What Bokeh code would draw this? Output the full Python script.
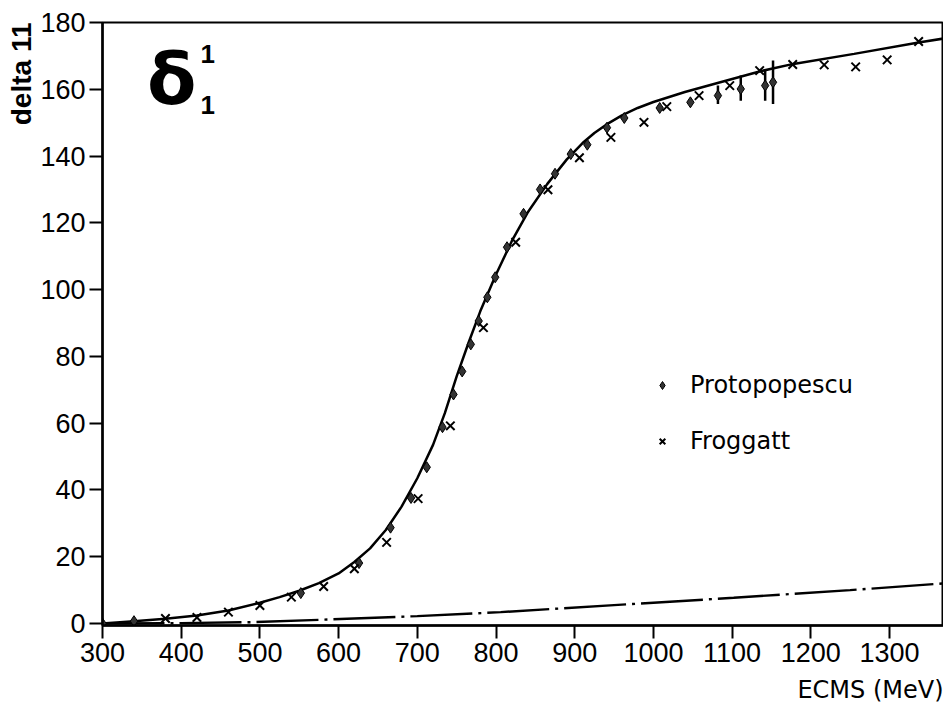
from bokeh.plotting import figure
from bokeh.models import Label, Legend, LegendItem, FixedTicker, Range1d, Title
from bokeh.embed import file_html
from bokeh.resources import INLINE

# ---- data ----
proto_x = [300, 340, 552, 626, 666, 692, 712, 732, 746, 757, 768, 778, 789, 799,
           814, 835, 856, 875, 895, 916, 941, 963, 1008, 1047, 1082, 1111, 1142, 1152]
proto_y = [0.0, 0.7, 9.1, 18.1, 28.7, 37.6, 46.8, 58.8, 68.6, 75.5, 83.6, 90.6, 97.7, 103.7,
           112.7, 122.7, 130.0, 134.7, 140.6, 143.4, 148.5, 151.4, 154.4, 156.1, 158.1, 160.1, 161.1, 162.1]

frog_x = [380, 420, 460, 500, 540, 581, 620, 661, 701, 742, 784, 825, 866, 906, 946,
          988, 1017, 1058, 1097, 1135, 1177, 1217, 1257, 1297, 1337]
frog_y = [1.5, 1.8, 3.4, 5.4, 7.9, 11.1, 16.4, 24.3, 37.4, 59.2, 88.6, 114.2, 129.9, 139.5, 145.6,
          150.1, 154.8, 158.1, 161.1, 165.6, 167.4, 167.3, 166.7, 168.8, 174.3]

err_x = [1082, 1111, 1142, 1152]
err_lo = [155.6, 156.6, 156.6, 155.6]
err_hi = [161.1, 164.1, 165.6, 168.6]

fit_x = [300, 340, 380, 420, 460, 500, 525, 550, 575, 600, 620, 640, 660, 680, 700, 720, 735,
         750, 765, 780, 800, 820, 840, 865, 890, 910, 925, 940, 960, 980, 1000, 1040, 1085,
         1136, 1178, 1255, 1337, 1374]
fit_y = [0.0, 0.7, 1.4, 2.4, 3.9, 6.2, 7.9, 9.8, 12.1, 15.0, 18.4, 22.5, 28.0, 35.0, 43.5, 53.5, 63.0,
         74.0, 84.0, 93.5, 104.5, 114.5, 123.0, 131.6, 139.0, 143.9, 146.9, 149.4, 152.2, 154.4, 156.2, 159.2, 162.1,
         165.4, 167.6, 170.6, 174.0, 175.4]

bg_x = [300, 400, 490, 575, 700, 806, 950, 1102, 1250, 1374]
bg_y = [0.0, 0.1, 0.4, 1.1, 2.2, 3.4, 5.5, 7.7, 10.0, 12.1]

x_ticks = [300, 400, 500, 600, 700, 800, 900, 1000, 1100, 1200, 1300]
y_ticks = [0, 20, 40, 60, 80, 100, 120, 140, 160, 180]

TICK_FONT = "Liberation Sans"
TEXT_FONT = "DejaVu Sans"

p = figure(width=943, height=712,
           x_range=Range1d(300, 1368.6), y_range=Range1d(-0.6, 180),
           output_backend="svg", toolbar_location=None,
           min_border_left=102, min_border_right=0,
           min_border_top=22, min_border_bottom=87)

p.background_fill_color = "white"
p.border_fill_color = "white"
p.outline_line_color = "black"
p.outline_line_width = 2
p.xgrid.visible = False
p.ygrid.visible = False

for ax in (p.xaxis[0], p.yaxis[0]):
    ax.axis_line_width = 2.5
    ax.axis_line_color = "black"
    ax.major_tick_line_width = 2
    ax.major_tick_line_color = "black"
    ax.major_tick_out = 13
    ax.major_tick_in = 0
    ax.minor_tick_out = 0
    ax.minor_tick_in = 0
    ax.major_label_text_font = TICK_FONT
    ax.major_label_text_font_size = "27px"
    ax.major_label_text_color = "black"

p.xaxis[0].ticker = FixedTicker(ticks=x_ticks)
p.yaxis[0].ticker = FixedTicker(ticks=y_ticks)
p.xaxis[0].major_label_standoff = 4
p.yaxis[0].major_label_standoff = 4

# curves
p.line(bg_x, bg_y, line_color="black", line_width=2.4, line_dash="62 6 3 6")
p.line(fit_x, fit_y, line_color="black", line_width=2.5)

# error bars
p.segment(x0=err_x, y0=err_lo, x1=err_x, y1=err_hi, line_color="black", line_width=2.5)

r_proto = p.scatter(proto_x, proto_y, marker="diamond", size=11,
                    fill_color="#333333", line_color="black", line_width=1)
r_frog = p.scatter(frog_x, frog_y, marker="x", size=12,
                   line_color="black", line_width=2)

legend = Legend(items=[LegendItem(label="Protopopescu", renderers=[r_proto]),
                       LegendItem(label="Froggatt", renderers=[r_frog])],
                location=(550, 170), orientation="vertical",
                background_fill_alpha=0, border_line_alpha=0,
                label_text_font=TEXT_FONT, label_text_font_size="24px",
                label_text_color="black",
                glyph_width=20, glyph_height=24, label_height=24,
                label_standoff=18, spacing=28, padding=0, margin=0)
p.add_layout(legend)

# texts inside the frame
p.add_layout(Label(x=388, y=163.0, text="\u03b4", text_align="center",
                   text_baseline="alphabetic", text_font=TEXT_FONT,
                   text_font_style="bold", text_font_size="72px", text_color="black"))
p.add_layout(Label(x=424.5, y=170.7, text="1", text_align="left",
                   text_baseline="alphabetic", text_font=TICK_FONT,
                   text_font_style="bold", text_font_size="26px", text_color="black"))
p.add_layout(Label(x=424.5, y=155.2, text="1", text_align="left",
                   text_baseline="alphabetic", text_font=TICK_FONT,
                   text_font_style="bold", text_font_size="26px", text_color="black"))

# axis titles outside the frame
p.add_layout(Title(text="delta 11", align="right", text_font=TICK_FONT,
                   text_font_style="bold", text_font_size="28px", text_color="black",
                   standoff=2), "left")
p.add_layout(Title(text="ECMS (MeV)", align="right", text_font=TEXT_FONT,
                   text_font_style="normal", text_font_size="24px", text_color="black",
                   standoff=18), "below")

open("out.html", "w").write(file_html(p, INLINE))
